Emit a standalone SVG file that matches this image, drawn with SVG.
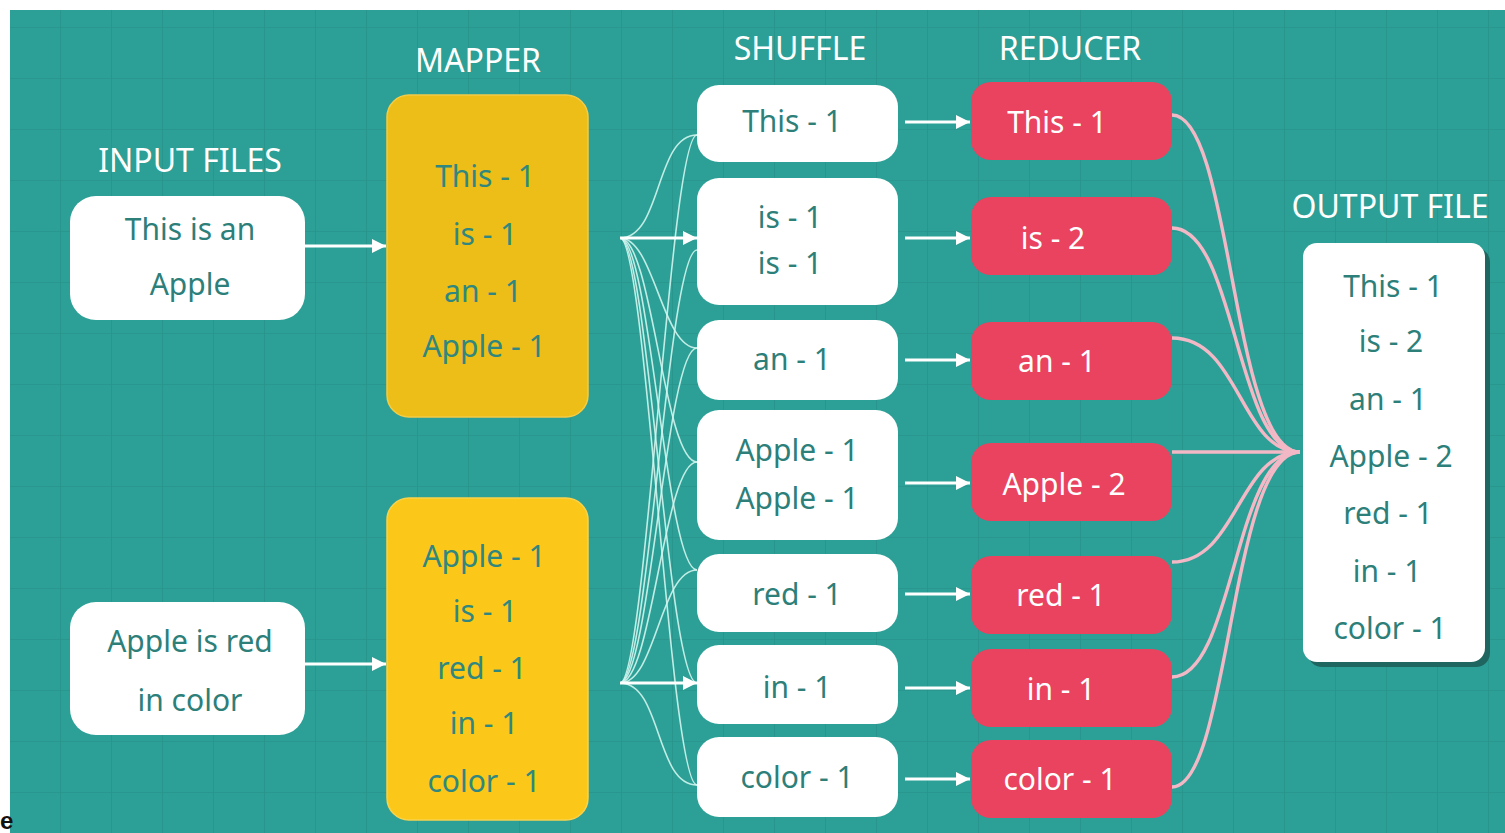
<svg xmlns="http://www.w3.org/2000/svg" width="1505" height="833" viewBox="0 0 1505 833">
  <style>
    .title { font-family: "Noto Sans", "Liberation Sans", sans-serif; font-size: 32px; fill: #ffffff; text-anchor: middle; }
    .t { font-family: "Noto Sans", "Liberation Sans", sans-serif; font-size: 30px; text-anchor: middle; dominant-baseline: central; }
    .teal { fill: #2d7f7a; }
    .tealm { fill: #2f877f; }
    .wt { fill: #ffffff; }
    .wbox { fill: #ffffff; }
    .ybox1 { fill: #edbd18; stroke: #f3cc45; stroke-width: 1.5; }
    .ybox2 { fill: #fbc819; stroke: #f9d24c; stroke-width: 1.5; }
    .rbox { fill: #e9435f; }
    .arrow { stroke: #ffffff; stroke-width: 3; fill: none; marker-end: url(#ah); }
    .fan { stroke: #d2f5ef; stroke-width: 1.6; fill: none; opacity: 0.9; }
    .pink { stroke: #f3b8c6; stroke-width: 3.4; fill: none; }
  </style>
  <defs>
    <pattern id="grid" x="9" y="27" width="51" height="51" patternUnits="userSpaceOnUse">
      <path d="M0,0 H51 M0,0 V51" stroke="#28948b" stroke-width="1.6" fill="none"/>
    </pattern>
    <marker id="ah" viewBox="0 0 10 10" refX="10" refY="5" markerWidth="14" markerHeight="14" markerUnits="userSpaceOnUse" orient="auto">
      <path d="M0,0 L10,5 L0,10 z" fill="#ffffff"/>
    </marker>
  </defs>

  <rect x="0" y="0" width="1505" height="833" fill="#ffffff"/>
  <rect x="10" y="10" width="1495" height="823" fill="#2ca096"/>
  <rect x="10" y="10" width="1495" height="823" fill="url(#grid)"/>

  <text x="0" y="829" font-family="Liberation Sans, sans-serif" font-weight="bold" font-size="24" fill="#111111">e</text>

  <text class="title" x="190" y="172">INPUT FILES</text>
  <text class="title" x="478" y="72">MAPPER</text>
  <text class="title" x="800" y="60">SHUFFLE</text>
  <text class="title" x="1070" y="60">REDUCER</text>
  <text class="title" x="1390" y="218">OUTPUT FILE</text>

  <g id="connectors">
    <line class="arrow" x1="305" y1="246" x2="386" y2="246"/>
    <line class="arrow" x1="305" y1="664" x2="386" y2="664"/>
    <!-- fan from top mapper -->
    <path class="fan" d="M620,238 C662,238 655,135 697,135"/>
    <path class="fan" d="M620,238 C654,238 662,348 697,348"/>
    <path class="fan" d="M620,238 C652,238 664,462 697,462"/>
    <path class="fan" d="M620,238 C650,238 666,570 697,570"/>
    <path class="fan" d="M620,238 C648,238 668,683 697,683"/>
    <path class="fan" d="M620,238 C646,238 670,785 697,785"/>
    <!-- fan from bottom mapper -->
    <path class="fan" d="M620,683 C646,683 670,135 697,135"/>
    <path class="fan" d="M620,683 C648,683 668,250 697,250"/>
    <path class="fan" d="M620,683 C650,683 666,348 697,348"/>
    <path class="fan" d="M620,683 C652,683 664,462 697,462"/>
    <path class="fan" d="M620,683 C656,683 660,570 697,570"/>
    <path class="fan" d="M620,683 C662,683 655,785 697,785"/>
    <line class="arrow" x1="620" y1="238" x2="697" y2="238"/>
    <line class="arrow" x1="620" y1="683" x2="697" y2="683"/>
    <!-- shuffle to reducer -->
    <line class="arrow" x1="905" y1="122" x2="970" y2="122"/>
    <line class="arrow" x1="905" y1="238" x2="970" y2="238"/>
    <line class="arrow" x1="905" y1="360" x2="970" y2="360"/>
    <line class="arrow" x1="905" y1="483" x2="970" y2="483"/>
    <line class="arrow" x1="905" y1="594" x2="970" y2="594"/>
    <line class="arrow" x1="905" y1="688" x2="970" y2="688"/>
    <line class="arrow" x1="905" y1="779" x2="970" y2="779"/>
    <!-- reducer to output -->
    <path class="pink" d="M1172,115 C1232,115 1232,452 1300,452"/>
    <path class="pink" d="M1172,228 C1236,228 1236,452 1300,452"/>
    <path class="pink" d="M1172,338 C1240,338 1240,452 1300,452"/>
    <path class="pink" d="M1172,452 L1300,452"/>
    <path class="pink" d="M1172,562 C1238,562 1238,452 1300,452"/>
    <path class="pink" d="M1172,677 C1234,677 1234,452 1300,452"/>
    <path class="pink" d="M1172,787 C1230,787 1230,452 1300,452"/>
  </g>

  <g id="input1">
    <rect class="wbox" x="70" y="196" width="235" height="124" rx="26"/>
    <text class="t teal" x="190" y="228">This is an</text>
    <text class="t teal" x="190" y="283">Apple</text>
  </g>
  <g id="input2">
    <rect class="wbox" x="70" y="602" width="235" height="133" rx="26"/>
    <text class="t teal" x="190" y="640">Apple is red</text>
    <text class="t teal" x="190" y="699">in color</text>
  </g>

  <g id="mapper1">
    <rect class="ybox1" x="387" y="95" width="201" height="322" rx="22"/>
    <text class="t tealm" x="485" y="175">This - 1</text>
    <text class="t tealm" x="485" y="233">is - 1</text>
    <text class="t tealm" x="483" y="290">an - 1</text>
    <text class="t tealm" x="484" y="345">Apple - 1</text>
  </g>
  <g id="mapper2">
    <rect class="ybox2" x="387" y="498" width="201" height="322" rx="22"/>
    <text class="t tealm" x="484" y="555">Apple - 1</text>
    <text class="t tealm" x="485" y="610">is - 1</text>
    <text class="t tealm" x="482" y="667">red - 1</text>
    <text class="t tealm" x="484" y="722">in - 1</text>
    <text class="t tealm" x="484" y="780">color - 1</text>
  </g>

  <g id="shuffle-this">
    <rect class="wbox" x="697" y="85" width="201" height="77" rx="22"/>
    <text class="t teal" x="792" y="120">This - 1</text>
  </g>
  <g id="shuffle-is">
    <rect class="wbox" x="697" y="178" width="201" height="127" rx="22"/>
    <text class="t teal" x="790" y="216">is - 1</text>
    <text class="t teal" x="790" y="262">is - 1</text>
  </g>
  <g id="shuffle-an">
    <rect class="wbox" x="697" y="320" width="201" height="80" rx="22"/>
    <text class="t teal" x="792" y="358">an - 1</text>
  </g>
  <g id="shuffle-apple">
    <rect class="wbox" x="697" y="410" width="201" height="130" rx="22"/>
    <text class="t teal" x="797" y="449">Apple - 1</text>
    <text class="t teal" x="797" y="497">Apple - 1</text>
  </g>
  <g id="shuffle-red">
    <rect class="wbox" x="697" y="554" width="201" height="78" rx="22"/>
    <text class="t teal" x="797" y="593">red - 1</text>
  </g>
  <g id="shuffle-in">
    <rect class="wbox" x="697" y="645" width="201" height="79" rx="22"/>
    <text class="t teal" x="797" y="686">in - 1</text>
  </g>
  <g id="shuffle-color">
    <rect class="wbox" x="697" y="737" width="201" height="80" rx="22"/>
    <text class="t teal" x="797" y="776">color - 1</text>
  </g>

  <g id="reducer-this">
    <rect class="rbox" x="971" y="82" width="201" height="78" rx="20"/>
    <text class="t wt" x="1057" y="121">This - 1</text>
  </g>
  <g id="reducer-is">
    <rect class="rbox" x="971" y="197" width="201" height="78" rx="20"/>
    <text class="t wt" x="1053" y="237">is - 2</text>
  </g>
  <g id="reducer-an">
    <rect class="rbox" x="971" y="322" width="201" height="78" rx="20"/>
    <text class="t wt" x="1057" y="360">an - 1</text>
  </g>
  <g id="reducer-apple">
    <rect class="rbox" x="971" y="443" width="201" height="78" rx="20"/>
    <text class="t wt" x="1064" y="483">Apple - 2</text>
  </g>
  <g id="reducer-red">
    <rect class="rbox" x="971" y="556" width="201" height="78" rx="20"/>
    <text class="t wt" x="1061" y="594">red - 1</text>
  </g>
  <g id="reducer-in">
    <rect class="rbox" x="971" y="649" width="201" height="78" rx="20"/>
    <text class="t wt" x="1061" y="688">in - 1</text>
  </g>
  <g id="reducer-color">
    <rect class="rbox" x="971" y="740" width="201" height="78" rx="20"/>
    <text class="t wt" x="1060" y="778">color - 1</text>
  </g>

  <g id="output">
    <rect x="1308" y="248" width="182" height="419" rx="14" fill="#1f6661"/>
    <rect class="wbox" x="1303" y="243" width="182" height="419" rx="14"/>
    <text class="t teal" x="1393" y="285">This - 1</text>
    <text class="t teal" x="1391" y="340">is - 2</text>
    <text class="t teal" x="1388" y="398">an - 1</text>
    <text class="t teal" x="1391" y="455">Apple - 2</text>
    <text class="t teal" x="1388" y="512">red - 1</text>
    <text class="t teal" x="1387" y="570">in - 1</text>
    <text class="t teal" x="1390" y="627">color - 1</text>
  </g>
</svg>
